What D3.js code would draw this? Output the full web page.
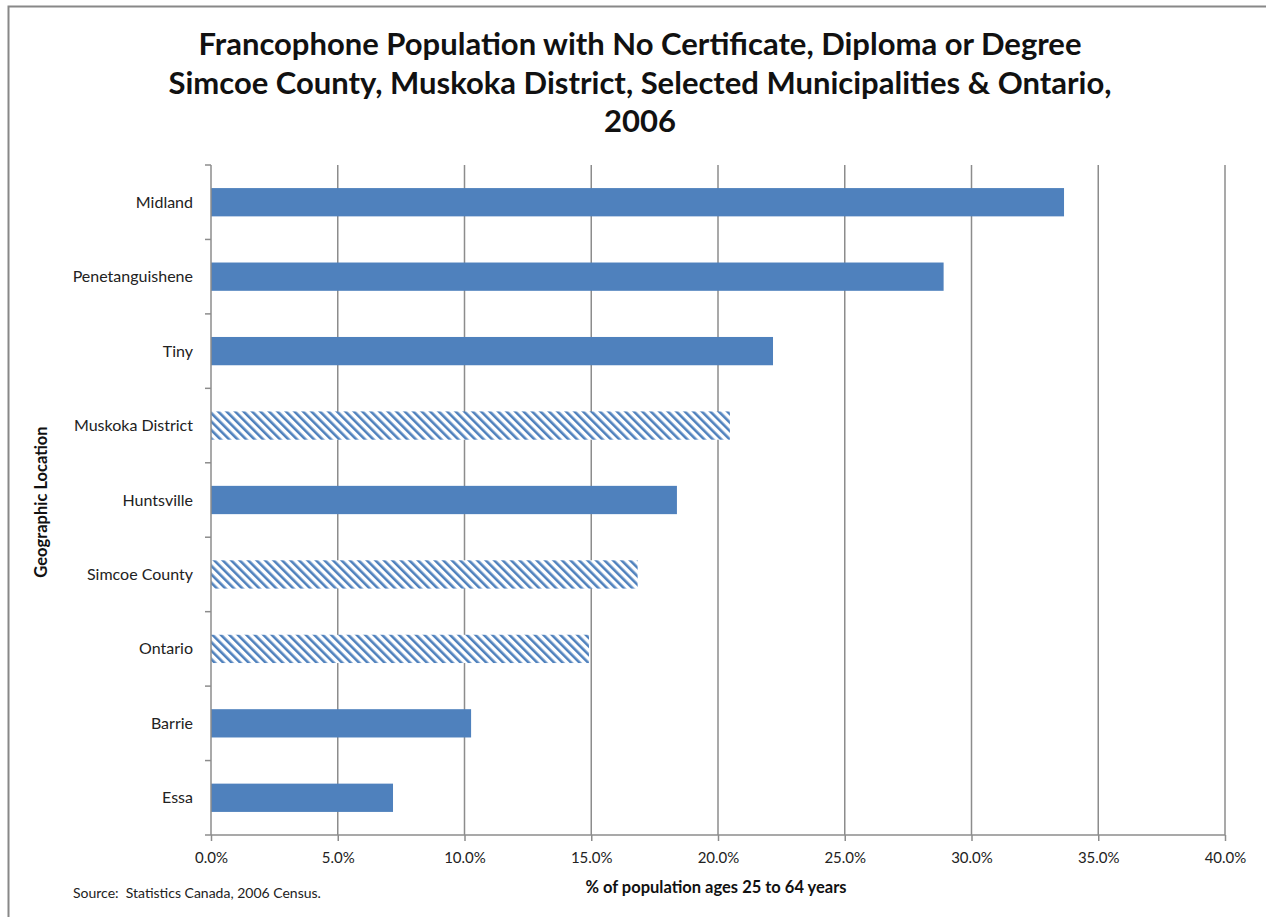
<!DOCTYPE html>
<html>
<head>
<meta charset="utf-8">
<script src="https://cdn.jsdelivr.net/npm/d3@7"></script>
<style>
  body { margin: 0; background: #fff; }
  text { font-family: Lato, "Open Sans", sans-serif; white-space: pre; }
</style>
</head>
<body>
<div id="chart"></div>
<script>
let w = 1266; let h = 917;

// data
let places = ["Midland", "Penetanguishene", "Tiny", "Muskoka District", "Huntsville",
              "Simcoe County", "Ontario", "Barrie", "Essa"];
let values = [33.65, 28.9, 22.17, 20.47, 18.38, 16.83, 14.91, 10.26, 7.18];
let hatched = [false, false, false, true, false, true, true, false, false];
let ticks = [0, 5, 10, 15, 20, 25, 30, 35, 40];
let titleLines = ["Francophone Population with No Certificate, Diploma or Degree",
                  "Simcoe County, Muskoka District, Selected Municipalities & Ontario,",
                  "2006"];

let svg = d3.select("#chart").append("svg").attr("width", w).attr("height", h);

// hatch pattern, stripes running down to the right
let pat = svg.append("defs").append("pattern")
  .attr("id", "hatch")
  .attr("patternUnits", "userSpaceOnUse")
  .attr("width", 6).attr("height", 6)
  .attr("patternTransform", "rotate(-45)");
pat.append("rect").attr("width", 6).attr("height", 6).attr("fill", "#fff");
pat.append("rect").attr("x", 0).attr("width", 2.6).attr("height", 6).attr("fill", "#4f81bd");

// chart border
svg.append("path")
  .attr("d", "M8.5,917 V6.5 H1266")
  .attr("fill", "none").attr("stroke", "#888").attr("stroke-width", 2);

let x = d3.scaleLinear().domain([0, 40]).range([211, 1225]);
let y = d3.scaleBand().domain(places).range([165, 835]).paddingInner(0.62).paddingOuter(0.31);
let yb = d3.scaleBand().domain(places).range([165, 835]);

// gridlines
svg.append("g").selectAll("line").data(ticks.slice(1)).enter().append("line")
  .attr("x1", d => x(d)).attr("x2", d => x(d))
  .attr("y1", 165).attr("y2", 835)
  .attr("stroke", "#8c8c8c").attr("stroke-width", 1.5);

// bars
svg.append("g").selectAll("rect").data(places).enter().append("rect")
  .attr("x", x(0))
  .attr("y", d => y(d))
  .attr("height", y.bandwidth())
  .attr("width", (d, i) => x(values[i]) - x(0))
  .attr("fill", (d, i) => hatched[i] ? "url(#hatch)" : "#4f81bd");

// y axis
let yAxis = svg.append("g").attr("transform", "translate(" + x(0) + ",0)");
yAxis.append("line").attr("y1", 165).attr("y2", 835).attr("stroke", "#8c8c8c").attr("stroke-width", 1.5);
yAxis.selectAll("line.t").data(places.concat(["end"])).enter().append("line")
  .attr("class", "t")
  .attr("x1", -6).attr("x2", 0)
  .attr("y1", (d, i) => i < places.length ? yb(d) : 835)
  .attr("y2", (d, i) => i < places.length ? yb(d) : 835)
  .attr("stroke", "#8c8c8c").attr("stroke-width", 1.5);
yAxis.selectAll("text").data(places).enter().append("text")
  .attr("x", -18)
  .attr("y", d => yb(d) + yb.bandwidth() / 2)
  .attr("dy", "0.35em")
  .attr("text-anchor", "end")
  .attr("font-size", "16px")
  .attr("fill", "#222")
  .text(d => d);

// x axis
let xAxis = svg.append("g").attr("transform", "translate(0,835)")
  .call(d3.axisBottom(x).tickValues(ticks).tickSize(6).tickFormat(d => d.toFixed(1) + "%"));
xAxis.select(".domain").attr("stroke", "#8c8c8c").attr("stroke-width", 1.5).attr("d", "M" + x(0) + ",0H" + x(40));
xAxis.selectAll(".tick line").attr("stroke", "#8c8c8c").attr("stroke-width", 1.5);
xAxis.selectAll(".tick text").attr("font-size", "15px").attr("fill", "#222").attr("y", 17)
  .style("font-family", "Lato, 'Open Sans', sans-serif");

// title
svg.append("g").selectAll("text").data(titleLines).enter().append("text")
  .attr("x", 640)
  .attr("y", (d, i) => 55 + i * 38.5)
  .attr("text-anchor", "middle")
  .attr("font-size", "31px")
  .attr("font-weight", "bold")
  .attr("fill", "#111")
  .text(d => d);

// axis titles
svg.append("text")
  .attr("transform", "translate(47,502) rotate(-90)")
  .attr("text-anchor", "middle")
  .attr("font-size", "16.5px")
  .attr("font-weight", "bold")
  .attr("fill", "#111")
  .text("Geographic Location");

svg.append("text")
  .attr("x", 716).attr("y", 893)
  .attr("text-anchor", "middle")
  .attr("font-size", "16.5px")
  .attr("font-weight", "bold")
  .attr("fill", "#111")
  .text("% of population ages 25 to 64 years");

svg.append("text")
  .attr("x", 73).attr("y", 898)
  .attr("font-size", "14px")
  .attr("fill", "#222")
  .text("Source:  Statistics Canada, 2006 Census.");
</script>
</body>
</html>
